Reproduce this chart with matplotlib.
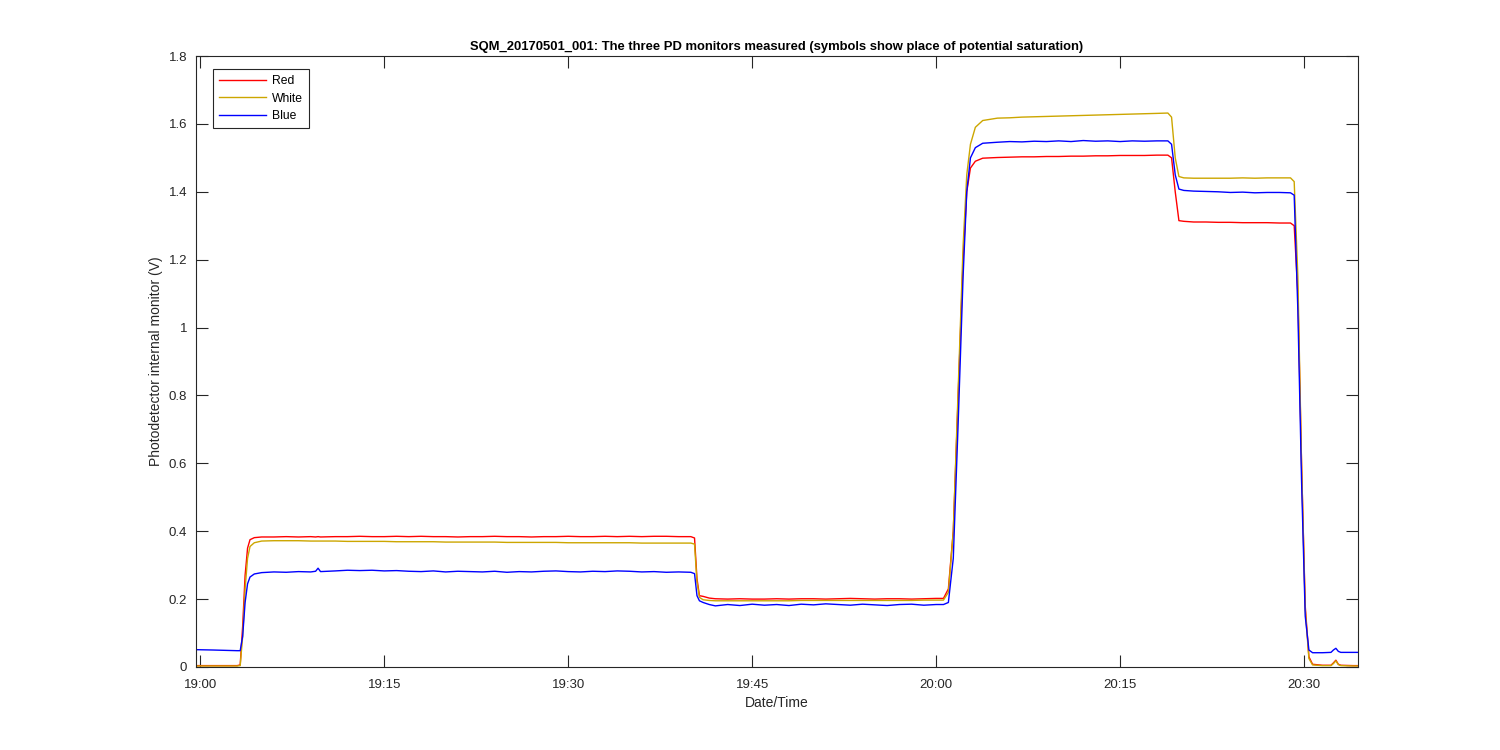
import pandas as pd
import matplotlib.pyplot as plt
import matplotlib.dates as mdates
from matplotlib.ticker import FuncFormatter

plt.rcParams['font.family'] = ['Liberation Sans', 'DejaVu Sans']

# minutes after 19:00 (2017-05-01)
minutes = [-0.35, 1, 2, 3.0, 3.25,
           3.45, 3.65, 3.85, 4.05, 4.4, 5,
           6, 7, 8, 9, 9.4, 9.6, 9.8, 11, 12, 13, 14, 15, 16, 17, 18, 19, 20, 21, 22, 23,
           24, 25, 26, 27, 28, 29, 30, 31, 32, 33, 34, 35, 36, 37, 38, 39, 40,
           40.3, 40.5, 40.7, 41.0, 41.5, 42,
           43, 44, 45, 46, 47, 48, 49, 50, 51, 52, 53, 54, 55, 56, 57, 58, 59, 60,
           60.6, 61.0, 61.4, 61.8, 62.2, 62.5, 62.8, 63.2, 63.8,
           65, 66, 67, 68, 69, 70, 71, 72, 73, 74, 75, 76, 77, 78, 78.9,
           79.2, 79.5, 79.8, 80.2, 81,
           82, 83, 84, 85, 86, 87, 88, 88.9,
           89.2, 89.5, 89.8, 90.1, 90.4, 90.7, 91.5, 92.2, 92.4, 92.6, 92.8, 93.0, 94.0, 94.4]

red = [0.004, 0.004, 0.004, 0.004, 0.006,
       0.12, 0.27, 0.35, 0.375, 0.381, 0.383,
       0.383, 0.384, 0.383, 0.384, 0.383, 0.384, 0.383, 0.384, 0.384, 0.385, 0.384, 0.384, 0.385, 0.384, 0.385, 0.384, 0.384, 0.383, 0.384, 0.384,
       0.385, 0.384, 0.384, 0.383, 0.384, 0.384, 0.385, 0.384, 0.384, 0.385, 0.384, 0.385, 0.384, 0.385, 0.385, 0.384, 0.384,
       0.38, 0.26, 0.21, 0.208, 0.203, 0.201,
       0.200, 0.201, 0.200, 0.200, 0.201, 0.200, 0.201, 0.201, 0.200, 0.201, 0.202, 0.201, 0.200, 0.201, 0.201, 0.200, 0.201, 0.202,
       0.202, 0.23, 0.40, 0.80, 1.20, 1.40, 1.47, 1.49, 1.499,
       1.501, 1.502, 1.503, 1.503, 1.504, 1.504, 1.505, 1.505, 1.506, 1.506, 1.507, 1.507, 1.507, 1.508, 1.508,
       1.50, 1.40, 1.315, 1.313, 1.311,
       1.311, 1.310, 1.310, 1.309, 1.309, 1.309, 1.308, 1.308,
       1.30, 1.10, 0.60, 0.18, 0.03, 0.008, 0.005, 0.005, 0.012, 0.02, 0.008, 0.005, 0.004, 0.004]

white = [0.003, 0.003, 0.003, 0.003, 0.004,
         0.09, 0.23, 0.32, 0.355, 0.366, 0.371,
         0.372, 0.372, 0.372, 0.371, 0.371, 0.371, 0.371, 0.371, 0.370, 0.370, 0.370, 0.370, 0.369, 0.369, 0.369, 0.369, 0.368, 0.368, 0.368, 0.368,
         0.368, 0.367, 0.367, 0.367, 0.367, 0.367, 0.366, 0.366, 0.366, 0.366, 0.366, 0.366, 0.365, 0.365, 0.365, 0.365, 0.365,
         0.362, 0.25, 0.205, 0.198, 0.196, 0.195,
         0.195, 0.195, 0.195, 0.195, 0.195, 0.195, 0.196, 0.196, 0.196, 0.196, 0.196, 0.196, 0.196, 0.196, 0.196, 0.196, 0.197, 0.197,
         0.197, 0.22, 0.40, 0.82, 1.24, 1.45, 1.54, 1.59, 1.610,
         1.617, 1.618, 1.620, 1.621, 1.622, 1.623, 1.624, 1.625, 1.626, 1.627, 1.628, 1.629, 1.630, 1.631, 1.632,
         1.62, 1.50, 1.445, 1.441, 1.440,
         1.440, 1.440, 1.440, 1.441, 1.440, 1.441, 1.441, 1.441,
         1.43, 1.15, 0.60, 0.17, 0.025, 0.006, 0.004, 0.004, 0.010, 0.018, 0.007, 0.004, 0.003, 0.003]

blue = [0.051, 0.050, 0.049, 0.048, 0.048,
        0.09, 0.19, 0.245, 0.265, 0.274, 0.278,
        0.280, 0.279, 0.281, 0.280, 0.282, 0.291, 0.281, 0.283, 0.285, 0.284, 0.285, 0.283, 0.284, 0.282, 0.281, 0.283, 0.280, 0.282, 0.281, 0.280,
        0.282, 0.279, 0.281, 0.280, 0.282, 0.283, 0.281, 0.280, 0.282, 0.281, 0.283, 0.282, 0.280, 0.281, 0.279, 0.280, 0.279,
        0.275, 0.21, 0.195, 0.19, 0.184, 0.180,
        0.184, 0.181, 0.185, 0.182, 0.184, 0.181, 0.185, 0.183, 0.186, 0.184, 0.182, 0.185, 0.183, 0.181, 0.184, 0.185, 0.182, 0.184,
        0.184, 0.19, 0.32, 0.72, 1.15, 1.40, 1.50, 1.53, 1.543,
        1.546, 1.548, 1.547, 1.549, 1.548, 1.550, 1.548, 1.551, 1.549, 1.550, 1.548, 1.550, 1.549, 1.550, 1.550,
        1.54, 1.45, 1.408, 1.404, 1.402,
        1.401, 1.400, 1.398, 1.399, 1.397, 1.398, 1.398, 1.397,
        1.39, 1.05, 0.55, 0.15, 0.05, 0.042, 0.042, 0.043, 0.05, 0.055, 0.046, 0.043, 0.043, 0.043]

base = pd.Timestamp('2017-05-01 19:00')
times = base + pd.to_timedelta(minutes, unit='m')

fig = plt.figure(figsize=(15, 7.5), dpi=100)
ax = fig.add_axes([0.1307, 0.1107, 0.7746, 0.8146])

ax.plot(times, red, color=(1, 0, 0), lw=1.0, label='Red')
ax.plot(times, white, color=(0.8, 0.65, 0.0), lw=1.0, label='White')
ax.plot(times, blue, color=(0, 0, 1), lw=1.0, label='Blue')

ax.set_xlim(times[0], times[-1])
ax.set_ylim(0, 1.8)
ax.set_yticks([0, 0.2, 0.4, 0.6, 0.8, 1, 1.2, 1.4, 1.6, 1.8])
ax.yaxis.set_major_formatter(FuncFormatter(lambda v, p: '%g' % round(v, 2)))
ax.xaxis.set_major_locator(mdates.MinuteLocator(byminute=[0, 15, 30, 45]))
ax.xaxis.set_major_formatter(mdates.DateFormatter('%H:%M'))

ax.tick_params(direction='in', length=8.6, width=0.8, top=True, right=True,
               labelsize=9.5, colors='#262626')
ax.tick_params(axis='x', pad=9)
ax.tick_params(axis='y', pad=6.5)
for s in ax.spines.values():
    s.set_color('#262626')
    s.set_linewidth(0.8)

ax.set_xlabel('Date/Time', fontsize=10, color='#262626', labelpad=3.5)
ax.set_ylabel('Photodetector internal monitor (V)', fontsize=10, color='#262626')
ax.set_title('SQM_20170501_001: The three PD monitors measured (symbols show place of potential saturation)',
             fontsize=9.4, fontweight='bold', pad=4)

leg = ax.legend(loc='upper left', bbox_to_anchor=(0.0146, 0.9787), borderaxespad=0,
                fontsize=8.7, fancybox=False, framealpha=1, edgecolor='#262626',
                handlelength=3.9, handletextpad=0.5, labelspacing=0.45, borderpad=0.5)
leg.get_frame().set_linewidth(0.8)

plt.savefig('out.png', dpi=100)
